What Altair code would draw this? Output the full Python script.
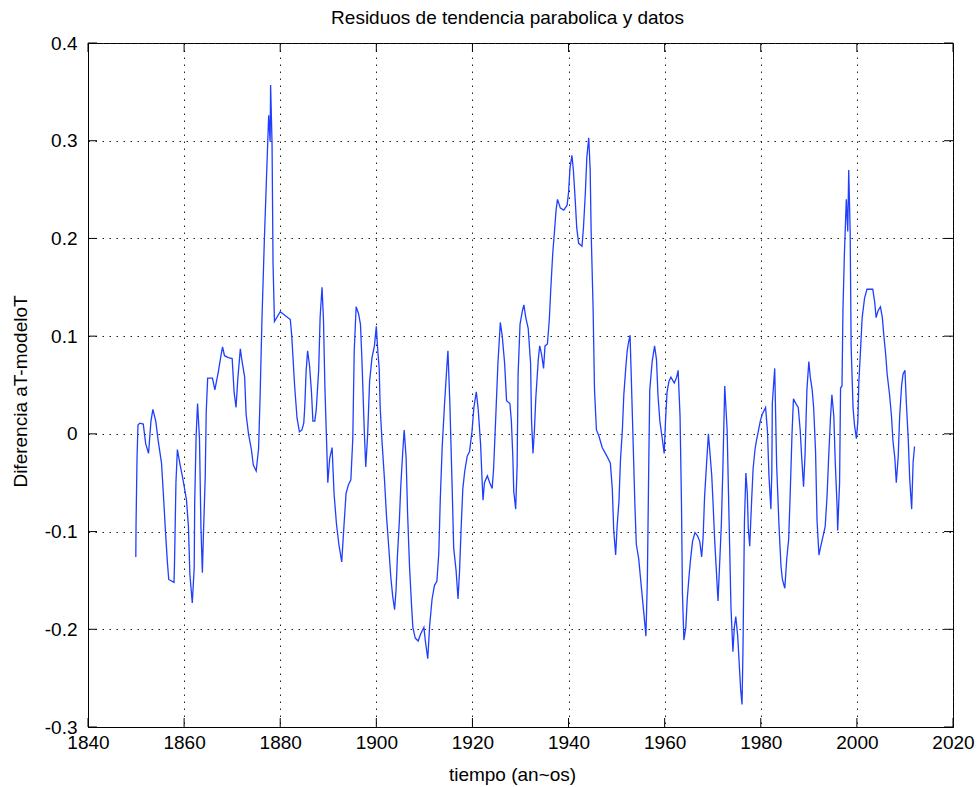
import altair as alt
import pandas as pd

# --- data ---
years = [
    1849.95, 1850.0, 1850.2, 1850.4, 1850.8, 1851.5, 1852.0, 1852.6, 1853.1, 1853.5,
    1854.1, 1854.6, 1855.3, 1855.7, 1856.1, 1856.5, 1856.8, 1857.9, 1858.0, 1858.3,
    1858.6, 1859.1, 1859.7, 1860.2, 1860.5, 1860.9, 1861.2, 1861.7, 1862.1, 1862.2,
    1862.5, 1862.8, 1863.2, 1863.5, 1863.8, 1864.0, 1864.4, 1864.6, 1864.9, 1865.9,
    1866.4, 1867.1, 1867.6, 1868.0, 1868.4, 1869.2, 1870.0, 1870.4, 1870.8, 1871.2,
    1871.7, 1872.0, 1872.6, 1872.9, 1873.4, 1874.0, 1874.4, 1875.0, 1875.5, 1875.8,
    1876.2, 1876.7, 1877.2, 1877.6, 1877.9, 1878.0, 1878.3, 1878.5, 1878.8, 1880.0,
    1882.1, 1882.4, 1883.0, 1883.5, 1884.0, 1884.5, 1884.9, 1885.1, 1885.4, 1885.7,
    1886.1, 1886.5, 1886.8, 1887.2, 1887.5, 1888.0, 1888.3, 1888.7, 1889.0, 1889.3,
    1889.7, 1889.9, 1890.3, 1890.8, 1891.2, 1891.7, 1892.2, 1892.8, 1893.2, 1893.7,
    1894.2, 1894.7, 1895.1, 1895.4, 1895.8, 1896.3, 1896.7, 1897.0, 1897.5, 1897.8,
    1898.2, 1898.6, 1899.1, 1899.6, 1900.0, 1900.3, 1900.6, 1900.8, 1901.2, 1901.7,
    1902.1, 1902.6, 1903.0, 1903.4, 1903.8, 1904.1, 1904.4, 1904.8, 1905.1, 1905.5,
    1905.8, 1906.2, 1906.5, 1906.9, 1907.3, 1907.6, 1908.1, 1908.7, 1909.2, 1909.9,
    1910.2, 1910.7, 1911.1, 1911.6, 1912.1, 1912.6, 1913.0, 1913.3, 1913.7, 1914.2,
    1914.6, 1914.9, 1915.3, 1915.8, 1916.1, 1916.6, 1917.0, 1917.3, 1917.7, 1918.0,
    1918.4, 1918.9, 1919.4, 1919.9, 1920.3, 1920.8, 1921.2, 1921.7, 1922.0, 1922.2,
    1922.5, 1923.1, 1923.6, 1924.1, 1924.4, 1924.8, 1925.3, 1925.8, 1926.2, 1926.7,
    1927.1, 1927.8, 1928.1, 1928.4, 1928.6, 1929.0, 1929.3, 1929.5, 1929.9, 1930.4,
    1930.7, 1931.1, 1931.6, 1932.1, 1932.3, 1932.6, 1932.9, 1933.2, 1933.7, 1934.0,
    1934.4, 1934.8, 1935.1, 1935.6, 1936.0, 1936.3, 1936.7, 1937.1, 1937.4, 1937.7,
    1938.3, 1939.0, 1939.7, 1940.0, 1940.3, 1940.7, 1941.0, 1941.4, 1941.7, 1942.1,
    1942.8, 1943.1, 1943.5, 1943.8, 1944.2, 1944.5, 1944.7, 1945.1, 1945.4, 1945.8,
    1946.3, 1947.0, 1948.0, 1948.7, 1949.1, 1949.4, 1949.8, 1950.1, 1950.5, 1950.8,
    1951.2, 1951.5, 1951.9, 1952.2, 1952.5, 1952.8, 1953.0, 1953.4, 1953.8, 1954.1,
    1954.6, 1955.0, 1955.5, 1955.9, 1956.1, 1956.4, 1956.7, 1956.9, 1957.4, 1957.9,
    1958.3, 1958.6, 1959.0, 1959.5, 1959.9, 1960.2, 1960.5, 1960.9, 1961.3, 1962.0,
    1962.5, 1962.8, 1963.2, 1963.5, 1963.7, 1964.0, 1964.4, 1964.7, 1965.1, 1965.4,
    1965.8, 1966.3, 1966.8, 1967.3, 1967.7, 1968.0, 1968.3, 1968.7, 1969.1, 1969.4,
    1969.8, 1970.1, 1970.4, 1970.8, 1971.1, 1971.5, 1971.8, 1972.1, 1972.5, 1973.0,
    1973.4, 1973.8, 1974.2, 1974.5, 1974.8, 1975.2, 1975.5, 1975.8, 1976.1, 1976.3,
    1976.6, 1976.9, 1977.2, 1977.4, 1977.7, 1978.1, 1978.4, 1978.8, 1979.1, 1979.9,
    1980.3, 1981.0, 1981.4, 1981.7, 1982.1, 1982.3, 1982.4, 1982.9, 1983.3, 1983.8,
    1984.2, 1984.5, 1985.0, 1985.4, 1985.8, 1986.1, 1986.5, 1986.8, 1987.3, 1987.8,
    1988.2, 1988.5, 1988.9, 1989.2, 1989.6, 1990.0, 1990.3, 1990.7, 1991.0, 1991.4,
    1991.7, 1992.1, 1992.4, 1992.9, 1993.4, 1993.8, 1994.1, 1994.5, 1994.8, 1995.2,
    1995.5, 1995.9, 1996.0, 1996.4, 1996.6, 1996.9, 1997.1, 1997.4, 1997.8, 1998.1,
    1998.3, 1998.6, 1998.8, 1999.2, 1999.5, 1999.9, 2000.2, 2000.4, 2000.8, 2001.1,
    2001.6, 2002.1, 2003.3, 2003.7, 2004.0, 2004.4, 2004.9, 2005.3, 2005.6, 2006.0,
    2006.3, 2006.8, 2007.2, 2007.5, 2007.9, 2008.2, 2008.6, 2008.9, 2009.3, 2009.6,
    2010.0, 2010.3, 2010.7, 2011.0, 2011.4, 2011.7, 2012.0,
]

residuals = [
    -0.126, -0.092, -0.025, 0.009, 0.011, 0.010, -0.010, -0.020, 0.013, 0.025,
    0.013, -0.007, -0.030, -0.063, -0.098, -0.130, -0.149, -0.152, -0.133, -0.050,
    -0.016, -0.030, -0.045, -0.059, -0.068, -0.095, -0.144, -0.173, -0.137, -0.072,
    -0.002, 0.031, -0.005, -0.095, -0.142, -0.106, -0.043, 0.022, 0.057, 0.057,
    0.045, 0.063, 0.078, 0.089, 0.080, 0.078, 0.077, 0.043, 0.027, 0.058,
    0.087, 0.076, 0.058, 0.020, 0.000, -0.016, -0.032, -0.038, -0.015, 0.036,
    0.117, 0.199, 0.270, 0.326, 0.299, 0.357, 0.297, 0.175, 0.115, 0.125,
    0.117, 0.100, 0.049, 0.016, 0.002, 0.004, 0.011, 0.027, 0.065, 0.085,
    0.070, 0.043, 0.013, 0.013, 0.025, 0.065, 0.119, 0.150, 0.117, 0.047,
    -0.016, -0.050, -0.025, -0.014, -0.061, -0.092, -0.113, -0.131, -0.099, -0.061,
    -0.052, -0.047, -0.005, 0.085, 0.130, 0.123, 0.112, 0.076, 0.002, -0.034,
    0.000, 0.054, 0.078, 0.090, 0.110, 0.085, 0.067, 0.027, -0.009, -0.047,
    -0.083, -0.117, -0.146, -0.166, -0.180, -0.160, -0.124, -0.088, -0.052, -0.018,
    0.004, -0.025, -0.081, -0.135, -0.173, -0.198, -0.209, -0.212, -0.205, -0.198,
    -0.212, -0.230, -0.196, -0.169, -0.155, -0.151, -0.122, -0.068, -0.014, 0.031,
    0.063, 0.085, 0.031, -0.059, -0.117, -0.140, -0.169, -0.142, -0.090, -0.056,
    -0.038, -0.023, -0.018, 0.002, 0.027, 0.043, 0.025, -0.011, -0.047, -0.068,
    -0.050, -0.043, -0.050, -0.056, -0.036, 0.011, 0.072, 0.114, 0.100, 0.072,
    0.034, 0.031, 0.013, -0.023, -0.059, -0.077, -0.032, 0.061, 0.112, 0.126,
    0.132, 0.119, 0.108, 0.072, 0.013, -0.020, 0.004, 0.038, 0.076, 0.090,
    0.081, 0.067, 0.090, 0.092, 0.117, 0.148, 0.184, 0.209, 0.229, 0.240,
    0.231, 0.229, 0.234, 0.247, 0.272, 0.285, 0.270, 0.238, 0.211, 0.195,
    0.192, 0.211, 0.247, 0.283, 0.303, 0.270, 0.207, 0.130, 0.045, 0.004,
    -0.002, -0.014, -0.023, -0.030, -0.056, -0.099, -0.124, -0.095, -0.068, -0.027,
    0.004, 0.040, 0.067, 0.085, 0.094, 0.101, 0.067, -0.002, -0.072, -0.113,
    -0.128, -0.149, -0.175, -0.196, -0.207, -0.149, -0.027, 0.045, 0.074, 0.090,
    0.076, 0.040, 0.013, -0.005, -0.020, 0.016, 0.043, 0.054, 0.058, 0.052,
    0.058, 0.065, 0.018, -0.072, -0.164, -0.211, -0.198, -0.169, -0.144, -0.128,
    -0.110, -0.101, -0.104, -0.110, -0.126, -0.106, -0.065, -0.032, 0.000, -0.018,
    -0.043, -0.074, -0.108, -0.144, -0.171, -0.126, -0.092, -0.038, 0.049, 0.004,
    -0.088, -0.178, -0.223, -0.198, -0.187, -0.207, -0.234, -0.261, -0.277, -0.220,
    -0.090, -0.040, -0.061, -0.097, -0.115, -0.068, -0.036, -0.016, -0.007, 0.013,
    0.020, 0.027, 0.002, -0.043, -0.077, -0.038, 0.031, 0.067, -0.032, -0.095,
    -0.135, -0.149, -0.158, -0.128, -0.108, -0.065, 0.000, 0.036, 0.031, 0.027,
    0.004, -0.023, -0.054, -0.023, 0.045, 0.074, 0.058, 0.045, 0.027, -0.018,
    -0.088, -0.124, -0.117, -0.106, -0.095, -0.063, -0.027, 0.016, 0.040, 0.018,
    -0.029, -0.077, -0.099, -0.050, 0.047, 0.049, 0.126, 0.184, 0.240, 0.207,
    0.270, 0.207, 0.090, 0.027, 0.009, -0.005, 0.013, 0.052, 0.090, 0.119,
    0.139, 0.148, 0.148, 0.135, 0.119, 0.126, 0.130, 0.119, 0.101, 0.081,
    0.061, 0.040, 0.018, -0.007, -0.025, -0.050, -0.023, 0.018, 0.049, 0.061,
    0.065, 0.031, -0.007, -0.047, -0.077, -0.029, -0.013,
]

x_ticks = [1840, 1860, 1880, 1900, 1920, 1940, 1960, 1980, 2000, 2020]
y_ticks = [-0.3, -0.2, -0.1, 0.0, 0.1, 0.2, 0.3, 0.4]

title_text = "Residuos de tendencia parabolica y datos"
x_title = "tiempo (an~os)"
y_title = "Diferencia aT-modeloT"

FONT = "Liberation Sans, Arial, Helvetica, sans-serif"
W, H = 865, 684
TICK = 9

df = pd.DataFrame({"year": years, "res": residuals})
xt = pd.DataFrame({"year": x_ticks})
yt = pd.DataFrame({"res": y_ticks})

xscale = alt.Scale(domain=[1840, 2020], nice=False, zero=False)
yscale = alt.Scale(domain=[-0.3, 0.4], nice=False, zero=False)

x_axis = alt.Axis(
    values=x_ticks,
    format="d",
    title=x_title,
    titleX=424,
    titleY=53,
    titleBaseline="alphabetic",
    labelFlush=False,
    labelPadding=6,
    tickSize=0,
    grid=True,
)
y_axis = alt.Axis(
    values=y_ticks,
    labelExpr="toString(round(datum.value*10)/10)",
    title=y_title,
    titleX=-58,
    titleY=348,
    titleAngle=-90,
    titleBaseline="bottom",
    labelPadding=11,
    tickSize=0,
    grid=True,
)

X = alt.X("year:Q", scale=xscale, axis=x_axis)
Y = alt.Y("res:Q", scale=yscale, axis=y_axis)

line = alt.Chart(df).mark_line(color="#1f3fff", strokeWidth=1.3, clip=True).encode(x=X, y=Y)

xt_bottom = alt.Chart(xt).mark_rule(color="black", strokeWidth=1).encode(
    x=X, y=alt.value(H), y2=alt.value(H - TICK)
)
xt_top = alt.Chart(xt).mark_rule(color="black", strokeWidth=1).encode(
    x=X, y=alt.value(0), y2=alt.value(TICK)
)
yt_left = alt.Chart(yt).mark_rule(color="black", strokeWidth=1).encode(
    y=Y, x=alt.value(0), x2=alt.value(TICK)
)
yt_right = alt.Chart(yt).mark_rule(color="black", strokeWidth=1).encode(
    y=Y, x=alt.value(W), x2=alt.value(W - TICK)
)

chart = (
    alt.layer(line, xt_bottom, xt_top, yt_left, yt_right)
    .properties(
        width=W,
        height=H,
        autosize=alt.AutoSizeParams(type="none"),
        padding={"left": 88, "top": 43, "right": 26, "bottom": 60},
        title=alt.TitleParams(
            title_text,
            anchor="middle",
            dx=-13,
            offset=6,
            fontSize=19,
            fontWeight="normal",
            font=FONT,
            color="black",
        ),
        background="white",
    )
    .configure_view(stroke="black", strokeWidth=1)
    .configure_axis(
        domainColor="black",
        domainWidth=1,
        labelColor="black",
        labelFont=FONT,
        labelFontSize=19,
        titleColor="black",
        titleFont=FONT,
        titleFontSize=19,
        titleFontWeight="normal",
        gridColor="#222222",
        gridDash=[1.5, 5.5],
        gridWidth=1,
        gridOpacity=1,
    )
)

chart.save("out.html", embed_options={"renderer": "svg", "actions": False})
